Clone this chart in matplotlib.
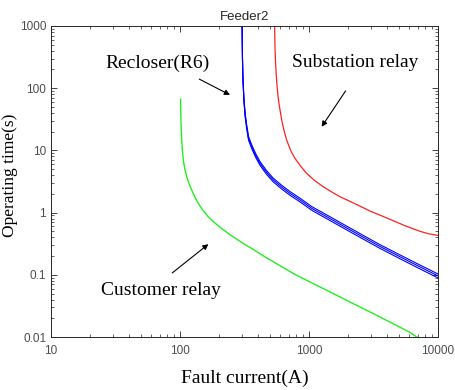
import matplotlib
matplotlib.use("Agg")
import matplotlib.pyplot as plt
from matplotlib.ticker import FixedLocator, LogLocator, NullFormatter

# Customer relay (green)
customer_i = [101, 101.5, 102.2, 103.1, 104.4, 106.1, 109, 112.8, 117, 123.3,
              130, 138.7, 150, 165.7, 185, 210, 245, 283, 320, 360, 456, 600,
              755, 1000, 1371, 2000, 2485, 3500, 4500, 6000, 7000]
customer_t = [66.5, 35, 22, 14.7, 10, 7.0, 5.0, 3.77, 2.98, 2.30, 1.80, 1.41,
              1.10, 0.855, 0.69, 0.557, 0.44, 0.361, 0.305, 0.265, 0.194,
              0.139, 0.105, 0.078, 0.0565, 0.038, 0.0304, 0.0213, 0.0163,
              0.0120, 0.0097]

# Recloser R6 (blue, three settings)
recloser_i = [302, 303, 305, 307.3, 313, 320, 328.7, 340, 359.6, 385, 417, 470,
              529, 610, 712, 850, 1050, 1300, 1740, 2485, 3500, 5000, 7000,
              10000]
recloser_t_a = [1395, 930, 279, 139.5, 60.4, 34.3, 22.4, 14.5, 10.7, 7.81,
                5.76, 4.09, 3.11, 2.42, 1.90, 1.49, 1.09, 0.849, 0.605, 0.40,
                0.27, 0.184, 0.129, 0.089]
recloser_t_b = [1500, 1000, 300, 150, 64.9, 36.9, 24.1, 15.6, 11.5, 8.4, 6.19,
                4.4, 3.34, 2.6, 2.04, 1.6, 1.17, 0.913, 0.65, 0.43, 0.29,
                0.198, 0.139, 0.096]
recloser_t_c = [1605, 1070, 321, 160.5, 69.4, 39.5, 25.8, 16.7, 12.3, 8.99,
                6.62, 4.71, 3.57, 2.78, 2.18, 1.71, 1.25, 0.977, 0.696, 0.46,
                0.31, 0.212, 0.149, 0.103]

# Substation relay (red)
substation_i = [538, 541, 545, 550, 562, 575, 589, 614, 640, 671, 720, 778, 860,
                959, 1100, 1291, 1500, 1738, 2100, 2485, 3000, 3600, 4500, 5500,
                7250, 8500, 10000]
substation_t = [1500, 1000, 450, 267, 124, 75, 52, 30.8, 21, 14.7, 10, 7.46,
                5.6, 4.27, 3.3, 2.6, 2.15, 1.8, 1.5, 1.27, 1.05, 0.9, 0.74,
                0.62, 0.5, 0.455, 0.43]

x_ticks = [10, 100, 1000, 10000]
x_labels = ["10", "100", "1000", "10000"]
y_ticks = [0.01, 0.1, 1, 10, 100, 1000]
y_labels = ["0.01", "0.1", "1", "10", "100", "1000"]

serif = "Liberation Serif"
sans = "Liberation Sans"
grey = "#4d4d4d"

fig = plt.figure(figsize=(4.56, 3.90), dpi=100)
ax = fig.add_axes([51 / 456, 53 / 390, 387 / 456, 311 / 390])

ax.plot(customer_i, customer_t, color="#22ee22", lw=1.0)
for t in (recloser_t_a, recloser_t_b, recloser_t_c):
    ax.plot(recloser_i, t, color="#0000ff", lw=0.8)
ax.plot(substation_i, substation_t, color="#ff2020", lw=0.9)

ax.set_xscale("log")
ax.set_yscale("log")
ax.set_xlim(10, 10000)
ax.set_ylim(0.01, 1000)

ax.xaxis.set_major_locator(FixedLocator(x_ticks))
ax.set_xticklabels(x_labels)
ax.yaxis.set_major_locator(FixedLocator(y_ticks))
ax.set_yticklabels(y_labels)
for axis in (ax.xaxis, ax.yaxis):
    axis.set_minor_locator(LogLocator(base=10, subs=range(2, 10), numticks=20))
    axis.set_minor_formatter(NullFormatter())

ax.tick_params(which="both", direction="in", top=True, right=True,
               colors="#262626", labelcolor=grey, labelsize=8.5)
ax.tick_params(which="major", length=4, width=0.6)
ax.tick_params(which="minor", length=2, width=0.5)
ax.tick_params(axis="x", which="major", pad=6)
for lab in ax.get_xticklabels() + ax.get_yticklabels():
    lab.set_family(sans)
for sp in ax.spines.values():
    sp.set_color("#262626")
    sp.set_linewidth(0.7)

ax.set_title("Feeder2", fontfamily=sans, fontsize=9.5, color="#262626", pad=4)
ax.set_xlabel("Fault current(A)", fontfamily=serif, fontsize=14, labelpad=9)
ax.set_ylabel("Operating time(s)", fontfamily=serif, fontsize=12.5,
              va="center")
ax.yaxis.set_label_coords(-41 / 387, 0.52)

arrow = dict(arrowstyle="-|>", color="k", lw=0.8, mutation_scale=8,
             shrinkA=0, shrinkB=0)
ax.text(67.5, 255, "Recloser(R6)", fontfamily=serif, fontsize=14,
        ha="center", va="center")
ax.annotate("", xy=(244, 78), xytext=(141, 140), arrowprops=arrow)
ax.text(2291, 255, "Substation relay", fontfamily=serif, fontsize=14,
        ha="center", va="center")
ax.annotate("", xy=(1253, 24), xytext=(1923, 90.6), arrowprops=arrow)
ax.text(71.3, 0.0565, "Customer relay", fontfamily=serif, fontsize=14,
        ha="center", va="center")
ax.annotate("", xy=(166, 0.311), xytext=(87, 0.107), arrowprops=arrow)

fig.savefig("out.png", dpi=100)
